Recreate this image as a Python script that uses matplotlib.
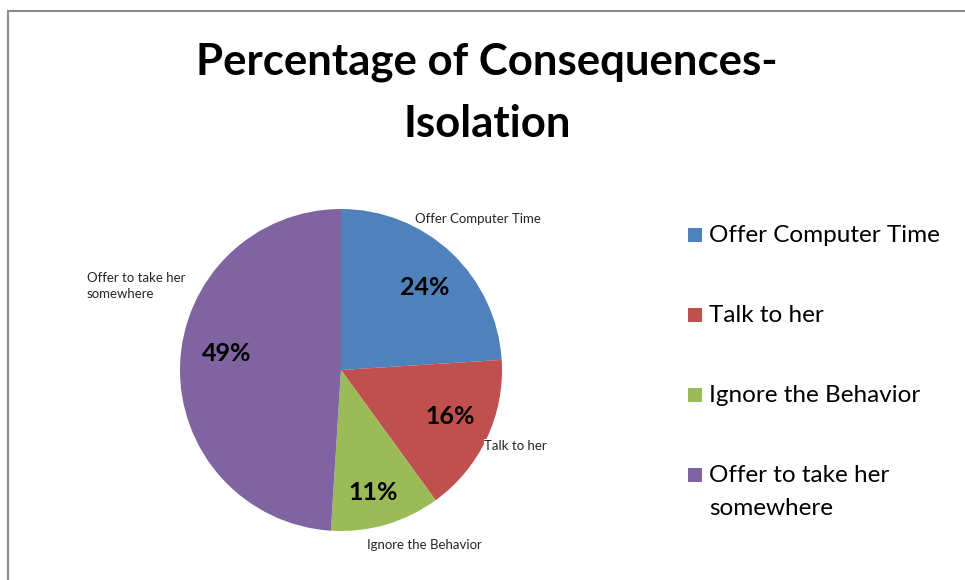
import matplotlib.pyplot as plt
from matplotlib.patches import Rectangle

plt.rcParams['font.family'] = ['Lato', 'DejaVu Sans']

categories = ["Offer Computer Time", "Talk to her", "Ignore the Behavior",
              "Offer to take her\nsomewhere"]
legend_labels = ["Offer Computer Time", "Talk to her", "Ignore the Behavior",
                 "Offer to take her\nsomewhere"]
shares = [24, 16, 11, 49]
colors = ["#4F81BD", "#C0504D", "#9BBB59", "#8064A2"]

# where the labels sit (pie radius = 1)
pct_pos = [(0.52, 0.51), (0.68, -0.29), (0.20, -0.76), (-0.71, 0.10)]
cat_pos = [(0.46, 0.94), (0.89, -0.47), (0.52, -1.09), (-1.58, 0.52)]
cat_ha = ["left", "left", "center", "left"]

W, H = 965, 580
fig = plt.figure(figsize=(W / 100, H / 100), dpi=100)


def fx(px):
    return px / W


def fy(py):
    return 1 - py / H


# chart border (runs off the right and bottom edges)
fig.patches.append(Rectangle((fx(8), -0.05), 1.1, fy(11) + 0.05, fill=False,
                             edgecolor="#8c8c8c", lw=1.5, transform=fig.transFigure))

fig.text(fx(487), fy(93), "Percentage of Consequences-\nIsolation",
         ha="center", va="center", fontsize=31.5, fontweight="bold",
         linespacing=1.68)

# axes sized so 1 data unit = 161 px, pie centred at (341, 370)
r = 161
cx, cy = 341, 370
x0, x1, ytop, ybot = 60, 620, 180, 570
ax = fig.add_axes([fx(x0), fy(ybot), (x1 - x0) / W, (ybot - ytop) / H])

wedges, _ = ax.pie(shares, colors=colors, startangle=90, counterclock=False,
                   radius=1, wedgeprops=dict(linewidth=0))
ax.set_xlim((x0 - cx) / r, (x1 - cx) / r)
ax.set_ylim((cy - ybot) / r, (cy - ytop) / r)
ax.set_aspect("equal")
ax.axis("off")

for s, (px, py) in zip(shares, pct_pos):
    ax.text(px, py, f"{s}%", ha="center", va="center", fontsize=18,
            fontweight="bold", color="black")

for name, (px, py), ha in zip(categories, cat_pos, cat_ha):
    ax.text(px, py, name, ha=ha, va="center", fontsize=9.5, color="#262626",
            linespacing=1.4,
            bbox=dict(facecolor="white", edgecolor="none", pad=0.5))

# legend: square key on the first line of each entry
row_gap = 80
for i, (lab, col) in enumerate(zip(legend_labels, colors)):
    base = 242 + row_gap * i
    fig.patches.append(Rectangle((fx(688), fy(base)), 14 / W, 14 / H,
                                 facecolor=col, edgecolor="none",
                                 transform=fig.transFigure))
    fig.text(fx(709), fy(base), lab.split("\n")[0], ha="left", va="baseline",
             fontsize=17.5, color="black")
    for j, extra in enumerate(lab.split("\n")[1:], start=1):
        fig.text(fx(709), fy(base + 33 * j), extra, ha="left", va="baseline",
                 fontsize=17.5, color="black")

fig.savefig("out.png", dpi=100)
